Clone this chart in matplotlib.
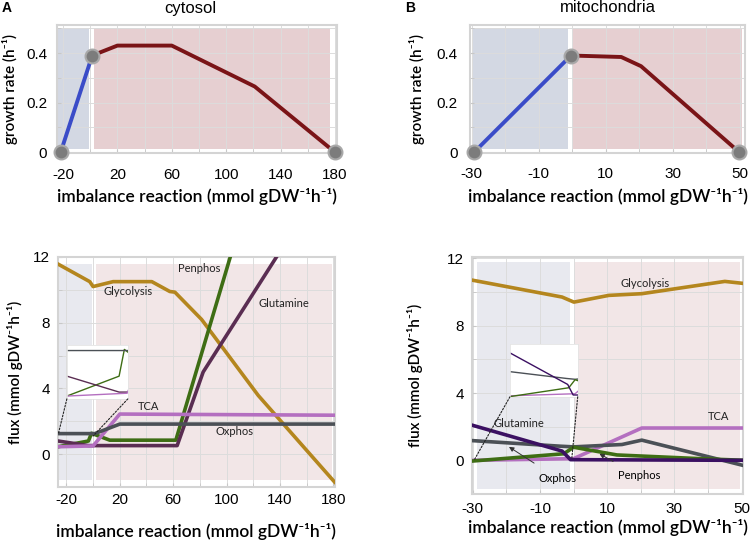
import matplotlib
matplotlib.use("Agg")
import matplotlib.pyplot as plt
from matplotlib.patches import ConnectionPatch

# ---- growth rate (top panels) ----
cyt_growth_blue_x = [-21.7, 1.5]
cyt_growth_blue_y = [0.0, 0.39]
cyt_growth_red_x = [1.5, 20, 60, 121, 180]
cyt_growth_red_y = [0.39, 0.43, 0.43, 0.265, 0.0]
cyt_points_x = [-21.7, 1.5, 180]
cyt_points_y = [0.0, 0.39, 0.0]

mit_growth_blue_x = [-29.3, -1.5, -0.3]
mit_growth_blue_y = [0.0, 0.375, 0.39]
mit_growth_red_x = [-0.3, 14.6, 20.5, 49.8]
mit_growth_red_y = [0.39, 0.384, 0.347, 0.0]
mit_points_x = [-29.3, -0.3, 49.8]
mit_points_y = [0.0, 0.39, 0.0]

# ---- fluxes, cytosol ----
cyt_glyc_x = [-26.3, -2.5, 0, 15, 44, 57.5, 61.3, 81.3, 123.8, 181]
cyt_glyc_y = [11.57, 10.5, 10.2, 10.5, 10.5, 9.9, 9.86, 8.2, 3.57, -1.7]
cyt_pen_x = [-26.3, -3.5, -1.2, 12.5, 62, 105]
cyt_pen_y = [0.45, 0.8, 1.27, 0.85, 0.85, 12.6]
cyt_glut_x = [-26.3, -3.5, 63, 82.5, 139]
cyt_glut_y = [0.8, 0.52, 0.52, 5.0, 12.2]
cyt_tca_x = [-26.3, 0, 20, 181]
cyt_tca_y = [0.45, 0.5, 2.44, 2.37]
cyt_ox_x = [-26.3, 1.3, 20, 181]
cyt_ox_y = [1.25, 1.25, 1.83, 1.83]

# ---- fluxes, mitochondria ----
mit_glyc_x = [-30, -3.4, 0.1, 10.5, 20.3, 45, 51]
mit_glyc_y = [10.7, 9.7, 9.4, 9.8, 9.9, 10.63, 10.5]
mit_pen_x = [-30, -2.9, 0, 12.9, 37.6, 51]
mit_pen_y = [-0.04, 0.39, 0.78, 0.32, 0.1, 0.0]
mit_glut_x = [-30, -3.4, -0.9, 51]
mit_glut_y = [2.08, 0.55, 0.04, 0.0]
mit_tca_x = [-30, 0, 20.3, 51]
mit_tca_y = [0.0, 0.1, 1.92, 1.92]
mit_ox_x = [-30, -3.9, 0, 14.4, 20.3, 51]
mit_ox_y = [1.17, 0.84, 0.8, 0.94, 1.2, -0.33]

c_glyc = "#b4861e"
c_pen = "#3e6d14"
c_glut_cyt = "#5a2d52"
c_glut_mit = "#3b1062"
c_tca = "#b46fc0"
c_ox = "#4b5056"
c_blue = "#3a4cc8"
c_red = "#7a1417"

label_font = ["Lato", "DejaVu Sans"]
tick_font = "Liberation Sans"
grid_c = "#dcdcdc"

fig = plt.figure(figsize=(7.5, 5.4), dpi=100)
W, H = 750, 540


def axes_px(l, t, r, b):
    return fig.add_axes([l / W, 1 - b / H, (r - l) / W, (b - t) / H])


def style(ax, xticks, xlabels, yticks, ylabels, xgrid, ygrid, xpad, ypad):
    ax.set_axisbelow("line")
    ax.set_xticks(xgrid, minor=True)
    ax.set_yticks(ygrid, minor=True)
    ax.set_xticks(xticks)
    ax.set_xticklabels(xlabels)
    ax.set_yticks(yticks)
    ax.set_yticklabels(ylabels)
    ax.grid(True, which="both", color=grid_c, lw=0.7)
    ax.tick_params(which="both", direction="in", length=3, color="#c8c8c8",
                   labelsize=11)
    ax.tick_params(axis="x", which="major", pad=xpad)
    ax.tick_params(axis="y", which="major", pad=ypad)
    for t in ax.get_xticklabels() + ax.get_yticklabels():
        t.set_fontfamily(tick_font)
    for s in ax.spines.values():
        s.set_color("#d4d4d4")
        s.set_linewidth(1.5)


xlab = "imbalance reaction (mmol gDW\u207b\u00b9h\u207b\u00b9)"
lab_kw = dict(family=label_font, weight="semibold")

# ================= A top =================
ax1 = axes_px(57, 25, 337, 153)
ax1.axvspan(-23.3, -1, ymin=0.03, ymax=0.98, color="#d3d8e3", lw=0, zorder=1)
ax1.axvspan(2.7, 176.5, ymin=0.03, ymax=0.98, color="#e6cfd1", lw=0, zorder=1)
ax1.plot(cyt_growth_blue_x, cyt_growth_blue_y, color=c_blue, lw=2.8, zorder=3)
ax1.plot(cyt_growth_red_x, cyt_growth_red_y, color=c_red, lw=2.8, zorder=3)
ax1.plot(cyt_points_x, cyt_points_y, "o", ms=10, mfc="#7c7c7c", mec="#a8a8a8",
         mew=1.5, ls="none", clip_on=False, zorder=5)
ax1.set_xlim(-24.4, 181.5)
ax1.set_ylim(-0.003, 0.513)
style(ax1, [-20, 20, 60, 100, 140, 180], ["-20", "20", "60", "100", "140", "180"],
      [0, 0.2, 0.4], ["0", "0.2", "0.4"],
      list(range(-20, 181, 20)), [0.1, 0.3, 0.5], 11, 7)
ax1.set_xlabel(xlab, fontsize=12.5, **lab_kw)
ax1.xaxis.set_label_coords(0.5, -0.27)
ax1.set_ylabel("growth rate (h\u207b\u00b9)", fontsize=11, **lab_kw)
ax1.yaxis.set_label_coords(-0.14, 0.5)

# ================= B top =================
ax2 = axes_px(470, 25, 745, 153)
ax2.axvspan(-29.5, -1.2, ymin=0.03, ymax=0.98, color="#d3d8e3", lw=0, zorder=1)
ax2.axvspan(0.1, 50.6, ymin=0.03, ymax=0.98, color="#e6cfd1", lw=0, zorder=1)
ax2.plot(mit_growth_blue_x, mit_growth_blue_y, color=c_blue, lw=2.8, zorder=3)
ax2.plot(mit_growth_red_x, mit_growth_red_y, color=c_red, lw=2.8, zorder=3)
ax2.plot(mit_points_x, mit_points_y, "o", ms=10, mfc="#7c7c7c", mec="#a8a8a8",
         mew=1.5, ls="none", clip_on=False, zorder=5)
ax2.set_xlim(-30.5, 51.5)
ax2.set_ylim(-0.003, 0.513)
style(ax2, [-30, -10, 10, 30, 50], ["-30", "-10", "10", "30", "50"],
      [0, 0.2, 0.4], ["0", "0.2", "0.4"],
      list(range(-30, 51, 10)), [0.1, 0.3, 0.5], 10, 9)
ax2.set_xlabel(xlab, fontsize=12.5, **lab_kw)
ax2.xaxis.set_label_coords(0.5, -0.27)
ax2.set_ylabel("growth rate (h\u207b\u00b9)", fontsize=11, **lab_kw)
ax2.yaxis.set_label_coords(-0.165, 0.5)

# ================= A bottom =================
ax3 = axes_px(58, 257, 335, 487)
ax3.axvspan(-26.3, -0.5, ymin=0.03, ymax=0.97, color="#e8e9ef", lw=0, zorder=1)
ax3.axvspan(2.5, 178.8, ymin=0.03, ymax=0.97, color="#f2e6e7", lw=0, zorder=1)
cyt_series = [(cyt_glyc_x, cyt_glyc_y, c_glyc), (cyt_pen_x, cyt_pen_y, c_pen),
              (cyt_glut_x, cyt_glut_y, c_glut_cyt), (cyt_tca_x, cyt_tca_y, c_tca),
              (cyt_ox_x, cyt_ox_y, c_ox)]
for xs, ys, c in cyt_series:
    ax3.plot(xs, ys, color=c, lw=2.6, zorder=3)
ax3.set_xlim(-26.3, 181.3)
ax3.set_ylim(-1.69, 12.0)
style(ax3, [-20, 20, 60, 100, 140, 180], ["-20", "20", "60", "100", "140", "180"],
      [0, 4, 8, 12], ["0", "4", "8", "12"],
      list(range(-20, 181, 20)), list(range(-2, 13, 2)), 4, 6)
ax3.set_xlabel(xlab, fontsize=12.5, **lab_kw)
ax3.xaxis.set_label_coords(0.5, -0.155)
ax3.set_ylabel("flux (mmol gDW\u207b\u00b9h\u207b\u00b9)", fontsize=11, **lab_kw)
ax3.yaxis.set_label_coords(-0.125, 0.5)
for txt, x, y in [("Penphos", 79.5, 11.3), ("Glycolysis", 26.3, 9.88),
                  ("Glutamine", 143, 9.17), ("TCA", 41.3, 2.93),
                  ("Oxphos", 106.3, 1.39)]:
    ax3.text(x, y, txt, fontsize=8, family=label_font, ha="center", va="center",
             color="#222222", zorder=6)

ins3 = ax3.inset_axes([0.032, 0.383, 0.22, 0.235])
for xs, ys, c in cyt_series:
    ins3.plot(xs, ys, color=c, lw=1.0)
ins3.set_xlim(-26.3, 0.3)
ins3.set_ylim(0.4, 1.35)
ins3.set_xticks([])
ins3.set_yticks([])
ins3.set_facecolor("white")
ins3.set_zorder(7)
for s in ins3.spines.values():
    s.set_color("#e4e4e4")
    s.set_linewidth(0.6)
for (ia, pb) in [((0, 0), (-26.0, 1.25)), ((1, 0), (0.0, 1.1))]:
    con = ConnectionPatch(xyA=ia, coordsA=ins3.transAxes, xyB=pb,
                          coordsB=ax3.transData, ls=(0, (1.5, 1.5)), lw=0.8,
                          color="#222222", zorder=6)
    fig.add_artist(con)

# ================= B bottom =================
ax4 = axes_px(472, 257, 743, 494)
ax4.axvspan(-28.6, -1.1, ymin=0.02, ymax=0.98, color="#e8e9ef", lw=0, zorder=1)
ax4.axvspan(0.4, 49.5, ymin=0.02, ymax=0.98, color="#f2e6e7", lw=0, zorder=1)
mit_series = [(mit_glyc_x, mit_glyc_y, c_glyc), (mit_tca_x, mit_tca_y, c_tca),
              (mit_ox_x, mit_ox_y, c_ox), (mit_pen_x, mit_pen_y, c_pen),
              (mit_glut_x, mit_glut_y, c_glut_mit)]
for xs, ys, c in mit_series:
    ax4.plot(xs, ys, color=c, lw=2.6, zorder=3)
ax4.set_xlim(-30.2, 50.4)
ax4.set_ylim(-2.0, 12.08)
style(ax4, [-30, -10, 10, 30, 50], ["-30", "-10", "10", "30", "50"],
      [0, 4, 8, 12], ["0", "4", "8", "12"],
      list(range(-30, 51, 10)), list(range(-2, 13, 2)), 6, 6)
ax4.set_xlabel(xlab, fontsize=12.5, **lab_kw)
ax4.xaxis.set_label_coords(0.5, -0.106)
ax4.set_ylabel("flux (mmol gDW\u207b\u00b9h\u207b\u00b9)", fontsize=11, **lab_kw)
ax4.yaxis.set_label_coords(-0.18, 0.5)
for txt, x, y in [("Glycolysis", 21.3, 10.5), ("TCA", 43, 2.6),
                  ("Glutamine", -16.2, 2.17)]:
    ax4.text(x, y, txt, fontsize=8, family=label_font, ha="center", va="center",
             color="#222222", zorder=6)
arrow = dict(arrowstyle="-|>", color="#333333", lw=0.7, mutation_scale=7)
ax4.annotate("Oxphos", xy=(-19.2, 0.8), xytext=(-4.8, -1.06), fontsize=8,
             family=label_font, ha="center", va="center", zorder=6,
             arrowprops=dict(arrow, shrinkA=9, shrinkB=0))
ax4.annotate("Penphos", xy=(7.7, 0.39), xytext=(19.4, -0.92), fontsize=8,
             family=label_font, ha="center", va="center", zorder=6,
             arrowprops=dict(arrow, shrinkA=9, shrinkB=0))

ins4 = ax4.inset_axes([0.14, 0.41, 0.25, 0.222])
for xs, ys, c in mit_series:
    ins4.plot(xs, ys, color=c, lw=1.0)
ins4.set_xlim(-30, 1.2)
ins4.set_ylim(-0.05, 2.5)
ins4.set_xticks([])
ins4.set_yticks([])
ins4.set_facecolor("white")
ins4.set_zorder(7)
for s in ins4.spines.values():
    s.set_color("#e4e4e4")
    s.set_linewidth(0.6)
for (ia, pb) in [((0, 0), (-29.6, 0.0)), ((1, 0), (-0.5, 0.15))]:
    con = ConnectionPatch(xyA=ia, coordsA=ins4.transAxes, xyB=pb,
                          coordsB=ax4.transData, ls=(0, (1.5, 1.5)), lw=0.8,
                          color="#222222", zorder=6)
    fig.add_artist(con)

# titles and panel letters
fig.text(190 / W, 1 - 8 / H, "cytosol", fontsize=12, family=tick_font,
         ha="center", va="center")
fig.text(608 / W, 1 - 8 / H, "mitochondria", fontsize=12, family=tick_font,
         ha="center", va="center")
fig.text(7 / W, 1 - 8 / H, "A", fontsize=10, weight="bold", family=tick_font,
         ha="center", va="center")
fig.text(410 / W, 1 - 8 / H, "B", fontsize=10, weight="bold", family=tick_font,
         ha="center", va="center")

plt.savefig("out.png", dpi=100)
